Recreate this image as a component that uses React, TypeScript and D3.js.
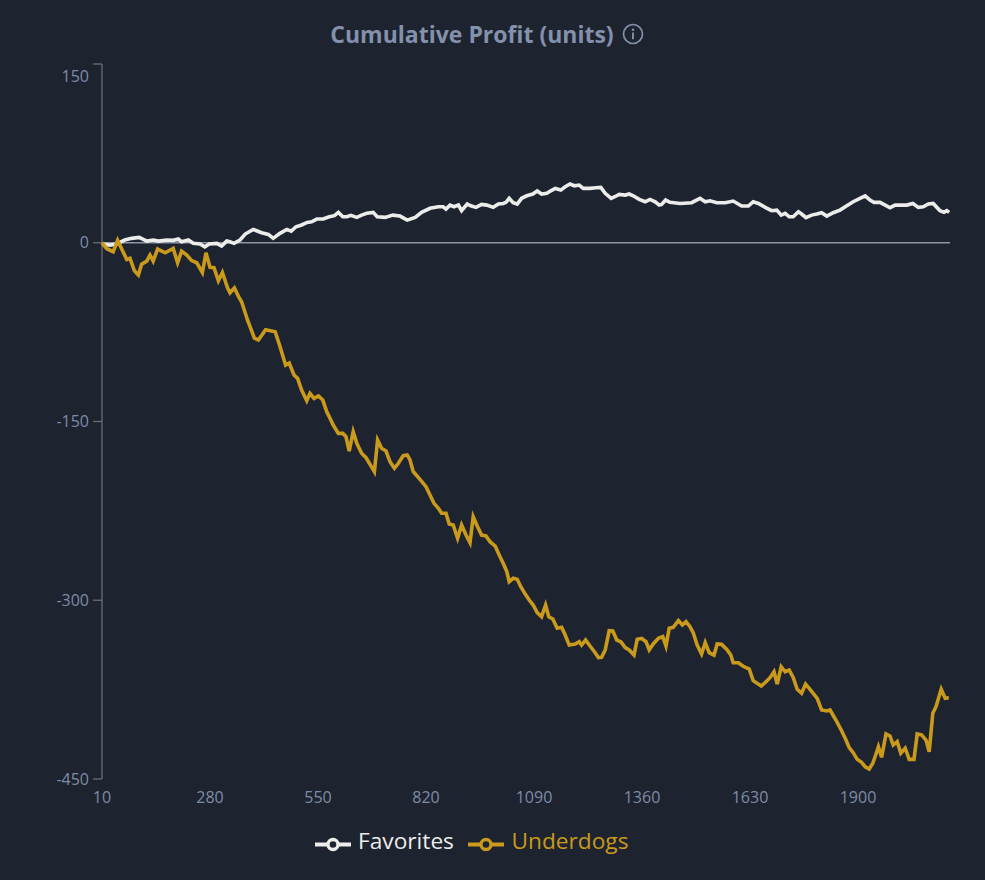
import React from 'react';
import * as d3 from 'd3';

const xTicks = [10, 280, 550, 820, 1090, 1360, 1630, 1900];
const yTicks = [150, 0, -150, -300, -450];

const favTrials = [10, 30, 47, 67, 84, 103, 122, 138, 151, 172, 188, 201, 209, 226, 238, 255, 267, 278, 297, 309, 322, 330, 340, 355, 368, 388, 409, 426, 438, 455, 472, 483, 495, 509, 523, 534, 547, 563, 578, 591, 601, 612, 622, 632, 647, 659, 672, 688, 698, 718, 737, 755, 773, 793, 809, 830, 851, 863, 870, 880, 890, 901, 909, 923, 932, 945, 959, 972, 988, 1001, 1013, 1020, 1028, 1038, 1048, 1059, 1072, 1087, 1098, 1109, 1122, 1132, 1143, 1157, 1168, 1180, 1191, 1203, 1213, 1230, 1245, 1257, 1268, 1283, 1292, 1303, 1318, 1328, 1338, 1353, 1368, 1380, 1393, 1403, 1409, 1419, 1430, 1455, 1484, 1505, 1518, 1530, 1547, 1568, 1588, 1609, 1626, 1638, 1651, 1668, 1684, 1697, 1708, 1718, 1728, 1738, 1751, 1759, 1770, 1784, 1797, 1809, 1822, 1838, 1855, 1872, 1888, 1905, 1918, 1930, 1940, 1955, 1968, 1980, 1993, 2009, 2022, 2037, 2051, 2063, 2076, 2088, 2105, 2115, 2122, 2128];
const favProfit = [-1, -2, -1, 2.3, 3.7, 4.5, 1.4, 2.3, 1.4, 2.3, 2, 3.1, 0.8, 2.3, -0.5, -1.1, -3.4, -1.1, -0.5, -2.8, 1.4, 0.8, -0.5, 2.3, 7.3, 11.2, 8.4, 7, 3.7, 7.9, 11.2, 9.8, 13.4, 14.9, 17.1, 17.6, 19.9, 19.9, 21.8, 22.7, 25.5, 21.8, 21.8, 23, 21.3, 23.2, 24.7, 25.5, 21.8, 21.3, 23.2, 22.4, 19, 21.3, 25.5, 28.9, 30.2, 30.2, 28.3, 31.6, 30.2, 31.6, 26.9, 32.5, 31, 29.7, 32.2, 31.6, 29.7, 32.5, 33, 33.9, 37.3, 33.6, 32.5, 37.3, 39.4, 40.9, 43.4, 40.9, 41.5, 43.6, 45.6, 44.2, 47, 49.3, 47.8, 48.4, 45.6, 45.6, 46.1, 46.5, 41.5, 37.3, 38.6, 40.6, 40, 40.9, 39.4, 36.4, 34.4, 36.4, 34.4, 31.6, 32.2, 35.8, 33.9, 33, 33.6, 37.3, 34.4, 35.2, 33.6, 33.6, 35, 30.8, 30.8, 34.4, 33, 29.7, 26.9, 27.4, 23.2, 24.7, 21.8, 21.8, 26, 24.1, 21, 23.2, 24.1, 25.2, 22.4, 25.2, 27.4, 31, 34.4, 37.3, 39.4, 35.8, 33.9, 33.9, 31.6, 29.4, 31.6, 31.6, 31.6, 33, 29.7, 30.2, 32.5, 33, 26.9, 25.5, 26.9, 25.5];

const dogTrials = [10, 22, 38, 49, 59, 72, 80, 91, 101, 109, 122, 130, 138, 149, 168, 188, 199, 209, 222, 234, 247, 261, 270, 280, 290, 301, 311, 324, 330, 341, 351, 359, 374, 391, 401, 419, 443, 455, 469, 478, 490, 499, 509, 522, 530, 540, 551, 562, 572, 580, 588, 601, 612, 620, 628, 638, 647, 659, 670, 680, 691, 699, 709, 720, 730, 741, 751, 763, 773, 780, 788, 805, 820, 830, 840, 851, 859, 870, 878, 888, 899, 909, 920, 930, 938, 948, 959, 970, 980, 993, 1003, 1015, 1022, 1028, 1038, 1048, 1057, 1068, 1078, 1088, 1098, 1109, 1119, 1127, 1137, 1148, 1159, 1168, 1178, 1193, 1203, 1209, 1219, 1230, 1243, 1251, 1259, 1268, 1278, 1287, 1297, 1307, 1318, 1328, 1340, 1348, 1359, 1370, 1378, 1388, 1401, 1412, 1420, 1428, 1438, 1451, 1461, 1470, 1480, 1488, 1498, 1509, 1518, 1528, 1540, 1548, 1559, 1572, 1582, 1588, 1601, 1612, 1628, 1638, 1658, 1670, 1680, 1690, 1698, 1708, 1718, 1728, 1738, 1748, 1759, 1769, 1780, 1798, 1809, 1822, 1830, 1847, 1859, 1870, 1878, 1888, 1898, 1909, 1918, 1928, 1937, 1945, 1951, 1959, 1970, 1980, 1988, 1998, 2007, 2018, 2028, 2040, 2048, 2059, 2070, 2078, 2087, 2095, 2108, 2118, 2127];
const dogProfit = [0, -5, -7.5, 2, -5, -14, -13, -23.5, -27, -18, -15.4, -10.3, -15.4, -5.3, -8.4, -4.7, -16.8, -7, -10.3, -15, -16.8, -25, -8.4, -20.6, -21, -31.9, -25, -38, -42, -38, -45, -49.5, -65, -80, -81.6, -73, -74.7, -87, -102.6, -101, -111, -113.8, -123.6, -132.6, -126.4, -130.6, -128.6, -132, -141.8, -147.3, -153, -160, -160, -162.8, -174.8, -158.6, -168.3, -176.7, -180.4, -186, -192.1, -165.5, -172.5, -174.8, -183.8, -189.3, -185.1, -178.7, -178.1, -182.3, -192, -198.5, -204.7, -211.7, -218.7, -222.9, -227, -227, -236, -236.9, -248, -236.9, -245.3, -251.7, -229.9, -237.7, -245.3, -246, -250.9, -254.5, -262, -270.4, -276, -284.4, -281.6, -282.4, -288.6, -294.8, -299.8, -304, -310.4, -313.8, -304, -313.8, -315.7, -323.5, -322.7, -329.2, -337.6, -336.7, -334.8, -337.6, -333.4, -338.4, -344, -348.2, -347.9, -341.7, -325.6, -325.8, -333.4, -334.8, -339.8, -341.7, -346, -332.8, -332, -334.8, -341.7, -336.7, -332, -330.6, -338.4, -323.5, -322.7, -317.1, -320.8, -318, -322.2, -327.2, -337.6, -345.1, -335.6, -344, -346, -336.7, -337, -341.2, -346, -352.4, -352.4, -355.2, -357.7, -367.5, -372, -368.4, -365, -360, -370.3, -355.8, -360, -358.5, -364.7, -374.7, -378.1, -370.3, -374.7, -382.3, -392.1, -392.9, -392.1, -401.9, -409.5, -417.3, -423.7, -427.9, -433.5, -436, -439.7, -441.6, -436.8, -429, -422.9, -431.8, -412.2, -413.9, -421.5, -418.7, -428.4, -424.2, -433.5, -433.5, -412.2, -413, -417.3, -427.1, -394.9, -389.3, -374.7, -382.3, -381.8];

const seriesNames = ['Favorites', 'Underdogs'];
const seriesColors = ['#ececea', '#c99a1c'];
const titleText = 'Cumulative Profit (units)';

const BG = '#1e2330';
const AXIS = '#6b6e73';
const TICK_TEXT = '#7d8ca6';
const TITLE = '#8391ab';
const FONT = '"Open Sans", "Noto Sans", sans-serif';

export default function App() {
  const x = d3.scaleLinear().domain([10, 2130]).range([102, 950]);
  const y = d3.scaleLinear().domain([-450, 150]).range([779, 64]);
  const line = d3
    .line<[number, number]>()
    .x((d) => x(d[0]))
    .y((d) => y(d[1]));

  const favData: [number, number][] = favTrials.map((t, i) => [t, favProfit[i]]);
  const dogData: [number, number][] = dogTrials.map((t, i) => [t, dogProfit[i]]);
  const seriesData = [favData, dogData];

  const [x0, x1] = x.range();
  const [yBottom, yTop] = y.range();

  const legendItems = [
    { icon: 315, text: 358 },
    { icon: 468, text: 511.5 },
  ];

  return (
    <div style={{ position: 'fixed', left: 0, top: 0, width: 985, height: 880, background: BG }}>
      <svg width={985} height={880} style={{ display: 'block', fontFamily: FONT }}>
        <rect width={985} height={880} fill={BG} />
        {/* title */}
        <text x={472} y={42.5} textAnchor="middle" fill={TITLE} fontSize={23} fontWeight={700}>
          {titleText}
        </text>
        <g transform="translate(633,34)">
          <circle r={9.5} fill="none" stroke={TITLE} strokeWidth={1.7} />
          <circle cx={0} cy={-4.3} r={1.3} fill={TITLE} />
          <line x1={0} x2={0} y1={-1.5} y2={5.2} stroke={TITLE} strokeWidth={1.9} />
        </g>

        {/* y axis */}
        <line x1={x0} x2={x0} y1={yTop} y2={yBottom} stroke={AXIS} strokeWidth={1.3} />
        {yTicks.map((t, i) => (
          <g key={t}>
            <line x1={x0 - 9} x2={x0} y1={y(t)} y2={y(t)} stroke={AXIS} strokeWidth={1.3} />
            <text
              x={x0 - 13}
              y={y(t) + (i === 0 ? 12 : 0)}
              dy="0.35em"
              textAnchor="end"
              fill={TICK_TEXT}
              fontSize={16}
            >
              {t}
            </text>
          </g>
        ))}

        {/* x tick labels */}
        {xTicks.map((t) => (
          <text key={t} x={x(t)} y={797} dy="0.35em" textAnchor="middle" fill={TICK_TEXT} fontSize={16}>
            {t}
          </text>
        ))}

        {/* zero reference line */}
        <line x1={x0} x2={x1} y1={y(0)} y2={y(0)} stroke="#8d95a5" strokeWidth={1.6} />

        {/* series */}
        {seriesData.map((d, i) => (
          <path key={i} d={line(d) || ''} fill="none" stroke={seriesColors[i]} strokeWidth={3.6} />
        ))}

        {/* legend */}
        {seriesNames.map((name, i) => (
          <g key={name}>
            <line
              x1={legendItems[i].icon}
              x2={legendItems[i].icon + 36}
              y1={844.5}
              y2={844.5}
              stroke={seriesColors[i]}
              strokeWidth={4}
            />
            <circle
              cx={legendItems[i].icon + 18}
              cy={844.5}
              r={5}
              fill={BG}
              stroke={seriesColors[i]}
              strokeWidth={3.4}
            />
            <text x={legendItems[i].text} y={849} fill={seriesColors[i]} fontSize={22.7}>
              {name}
            </text>
          </g>
        ))}
      </svg>
    </div>
  );
}
